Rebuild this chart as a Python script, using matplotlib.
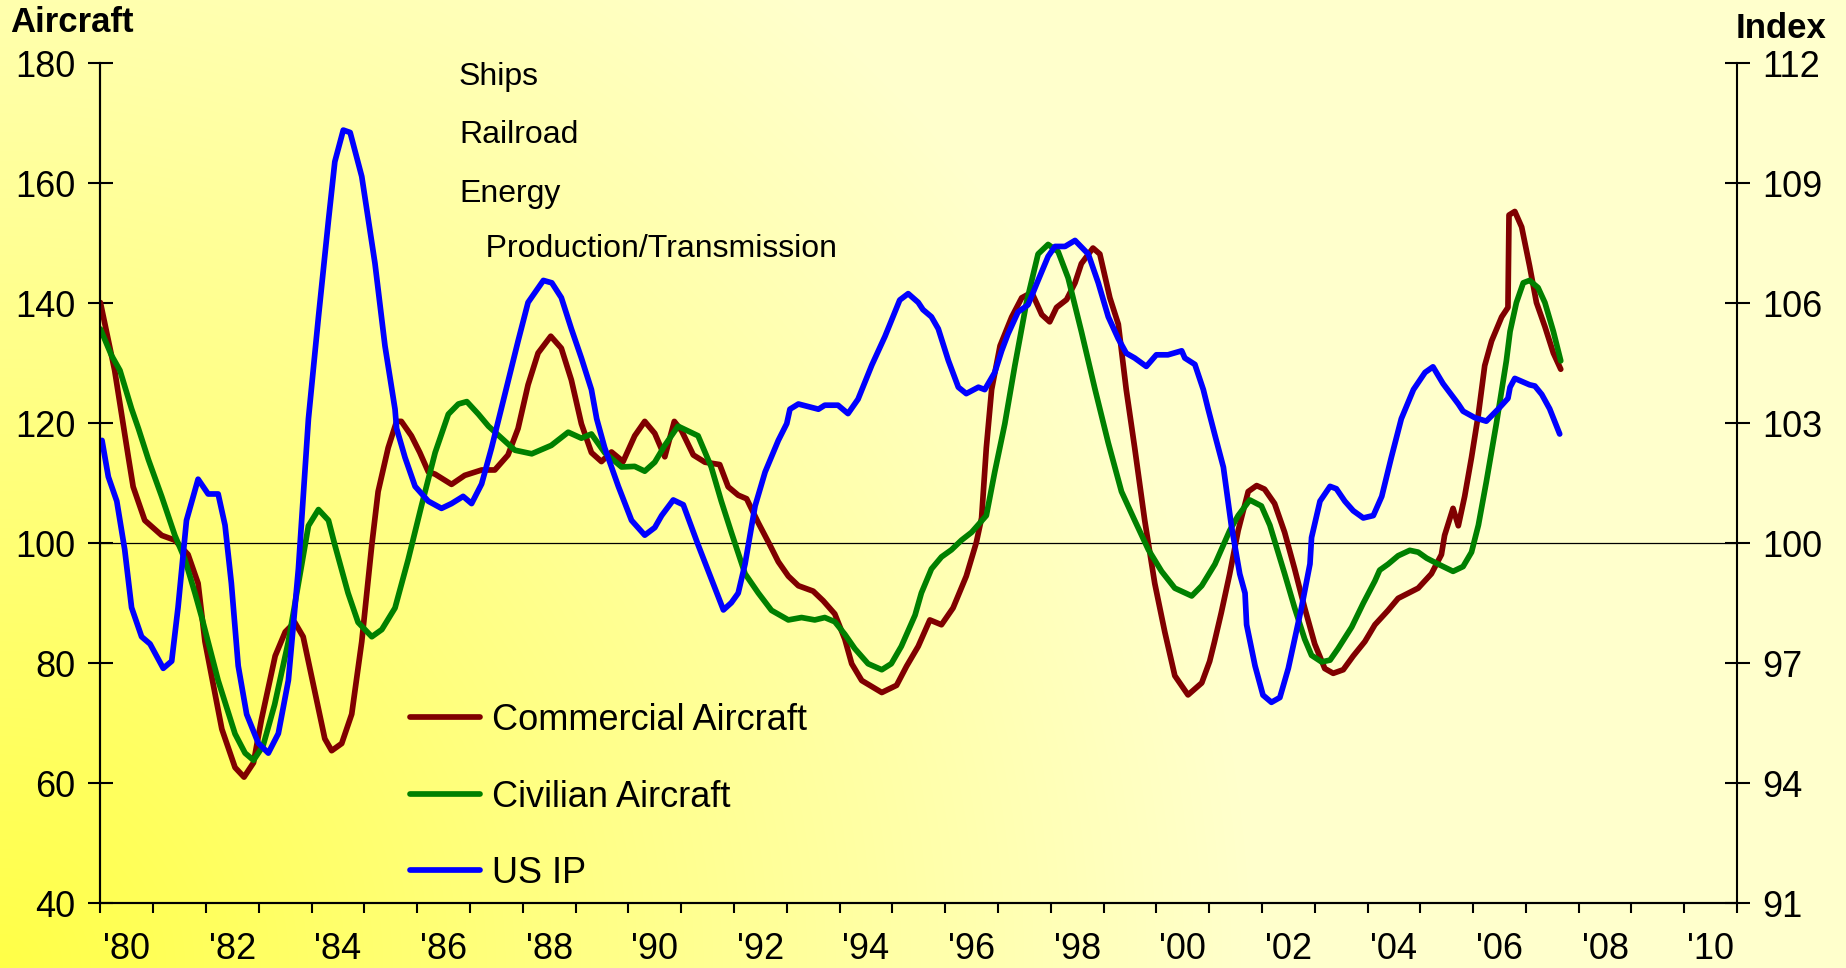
#!/usr/bin/env python3
"""Aircraft orders vs US industrial production, 1980-2007."""
import numpy as np
import matplotlib
matplotlib.use("Agg")
import matplotlib.pyplot as plt
from matplotlib.lines import Line2D

plt.rcParams["font.family"] = ["Liberation Sans", "DejaVu Sans"]

# Commercial aircraft (left axis)
comm_years = [1980.00, 1980.27, 1980.53, 1980.62, 1980.84, 1981.16, 1981.41, 1981.66, 1981.85, 1981.98,
              1982.30, 1982.55, 1982.72, 1982.90, 1983.05, 1983.31, 1983.50, 1983.68, 1983.84, 1984.25,
              1984.38, 1984.57, 1984.76, 1984.95, 1985.14, 1985.26, 1985.45, 1985.61, 1985.70, 1985.89,
              1986.05, 1986.21, 1986.34, 1986.65, 1986.90, 1987.22, 1987.47, 1987.72, 1987.91, 1988.10,
              1988.29, 1988.53, 1988.73, 1988.92, 1989.11, 1989.30, 1989.49, 1989.68, 1989.90, 1990.12,
              1990.31, 1990.50, 1990.69, 1990.87, 1991.01, 1991.23, 1991.45, 1991.73, 1991.89, 1992.08,
              1992.24, 1992.46, 1992.68, 1992.84, 1993.03, 1993.22, 1993.50, 1993.69, 1993.91, 1994.10,
              1994.23, 1994.42, 1994.80, 1995.08, 1995.27, 1995.49, 1995.71, 1995.93, 1996.15, 1996.40,
              1996.59, 1996.69, 1996.78, 1996.88, 1997.04, 1997.26, 1997.45, 1997.64, 1997.83, 1997.98,
              1998.11, 1998.30, 1998.46, 1998.58, 1998.80, 1998.93, 1999.12, 1999.28, 1999.43, 1999.59,
              1999.78, 1999.97, 2000.16, 2000.35, 2000.60, 2000.86, 2001.01, 2001.10, 2001.23, 2001.39,
              2001.55, 2001.74, 2001.90, 2002.05, 2002.24, 2002.43, 2002.62, 2002.81, 2003.00, 2003.19,
              2003.35, 2003.54, 2003.73, 2003.95, 2004.14, 2004.39, 2004.58, 2004.96, 2005.21, 2005.40,
              2005.46, 2005.62, 2005.72, 2005.84, 2005.97, 2006.10, 2006.22, 2006.35, 2006.54, 2006.66,
              2006.68, 2006.79, 2006.92, 2007.07, 2007.20, 2007.36, 2007.52, 2007.66]
comm_vals = [140.1, 128.8, 114.3, 109.4, 103.8, 101.3, 100.5, 98.1, 93.3, 83.6,
             69.0, 62.6, 61.0, 63.4, 70.6, 81.2, 85.2, 86.8, 84.4, 67.4,
             65.4, 66.6, 71.5, 83.6, 99.7, 108.6, 115.9, 120.3, 120.3, 117.9,
             115.1, 111.9, 111.5, 109.8, 111.3, 112.2, 112.2, 114.7, 119.1, 126.4,
             131.7, 134.5, 132.5, 127.2, 119.9, 115.1, 113.6, 115.2, 113.6, 117.9,
             120.3, 118.3, 114.4, 120.3, 118.7, 114.7, 113.5, 113.1, 109.4, 108.0,
             107.4, 103.4, 99.7, 96.9, 94.5, 92.9, 92.0, 90.4, 88.2, 84.0,
             79.9, 77.1, 75.1, 76.3, 79.5, 82.8, 87.2, 86.4, 89.2, 94.5,
             100.1, 104.2, 115.9, 125.6, 132.9, 137.7, 140.9, 141.8, 138.1, 136.9,
             139.3, 140.6, 143.4, 146.6, 149.2, 148.2, 140.9, 136.5, 125.6, 115.9,
             103.8, 93.3, 85.2, 77.9, 74.7, 76.7, 80.3, 83.5, 88.4, 94.9,
             102.1, 108.6, 109.6, 109.0, 106.6, 101.8, 95.7, 89.2, 83.2, 79.1,
             78.3, 78.9, 81.2, 83.6, 86.4, 88.8, 90.8, 92.5, 94.9, 98.1,
             101.3, 105.8, 102.9, 107.8, 114.3, 121.5, 129.6, 133.7, 137.7, 139.3,
             154.7, 155.3, 152.7, 146.2, 140.1, 136.1, 131.7, 129.0]

# Civilian aircraft (left axis)
civ_years = [1980.00, 1980.21, 1980.37, 1980.59, 1980.72, 1980.91, 1981.16, 1981.41, 1981.60, 1981.79,
             1981.92, 1982.23, 1982.55, 1982.74, 1982.90, 1983.08, 1983.30, 1983.56, 1983.75, 1983.94,
             1984.13, 1984.32, 1984.44, 1984.69, 1984.88, 1985.14, 1985.33, 1985.58, 1985.83, 1986.08,
             1986.34, 1986.59, 1986.78, 1986.94, 1987.16, 1987.35, 1987.60, 1987.85, 1988.17, 1988.54,
             1988.86, 1989.11, 1989.30, 1989.55, 1989.87, 1990.12, 1990.31, 1990.50, 1990.69, 1990.94,
             1991.32, 1991.57, 1991.76, 1991.95, 1992.21, 1992.46, 1992.71, 1993.03, 1993.28, 1993.53,
             1993.72, 1993.91, 1994.10, 1994.29, 1994.54, 1994.80, 1994.98, 1995.17, 1995.43, 1995.55,
             1995.74, 1995.93, 1996.12, 1996.31, 1996.50, 1996.78, 1996.94, 1997.13, 1997.32, 1997.54,
             1997.76, 1997.95, 1998.14, 1998.33, 1998.58, 1998.84, 1999.09, 1999.34, 1999.59, 1999.85,
             2000.10, 2000.35, 2000.67, 2000.86, 2001.11, 2001.39, 2001.55, 2001.77, 2001.99, 2002.15,
             2002.43, 2002.62, 2002.81, 2002.94, 2003.13, 2003.29, 2003.44, 2003.70, 2003.92, 2004.14,
             2004.23, 2004.39, 2004.58, 2004.80, 2004.96, 2005.12, 2005.34, 2005.62, 2005.81, 2005.97,
             2006.10, 2006.25, 2006.44, 2006.63, 2006.70, 2006.82, 2006.95, 2007.07, 2007.23, 2007.36,
             2007.52, 2007.66]
civ_vals = [135.7, 131.3, 128.8, 122.4, 119.1, 113.9, 107.8, 101.3, 97.3, 91.7,
            87.6, 77.1, 68.2, 65.0, 63.8, 66.2, 73.1, 83.6, 93.3, 102.9,
            105.6, 103.8, 99.7, 91.7, 86.8, 84.4, 85.6, 89.2, 97.3, 106.2,
            115.1, 121.5, 123.2, 123.6, 121.5, 119.5, 117.5, 115.5, 114.9, 116.3,
            118.5, 117.5, 118.2, 115.1, 112.7, 112.8, 112.0, 113.5, 116.3, 119.5,
            117.9, 112.7, 107.0, 101.8, 94.9, 91.7, 88.8, 87.2, 87.6, 87.2,
            87.6, 86.9, 84.8, 82.4, 79.9, 78.9, 79.9, 82.8, 88.0, 91.7,
            95.7, 97.7, 98.9, 100.5, 101.8, 104.6, 111.9, 119.9, 129.6, 140.1,
            148.2, 149.8, 148.6, 144.2, 135.3, 125.6, 116.7, 108.6, 103.8, 98.9,
            95.3, 92.5, 91.2, 92.9, 96.5, 102.1, 104.6, 107.2, 106.2, 103.0,
            94.9, 89.2, 84.0, 81.3, 80.2, 80.5, 82.4, 86.0, 90.0, 93.7,
            95.5, 96.5, 97.9, 98.8, 98.5, 97.5, 96.5, 95.3, 96.1, 98.5,
            103.0, 110.2, 119.9, 130.4, 135.3, 140.1, 143.4, 143.8, 142.6, 140.1,
            135.3, 130.4]

# US industrial production index (right axis)
ip_years = [1980.03, 1980.15, 1980.31, 1980.46, 1980.59, 1980.78, 1980.94, 1981.19, 1981.35, 1981.47,
            1981.63, 1981.85, 1982.04, 1982.23, 1982.36, 1982.48, 1982.61, 1982.77, 1982.99, 1983.18,
            1983.37, 1983.56, 1983.75, 1983.94, 1984.13, 1984.32, 1984.44, 1984.60, 1984.73, 1984.95,
            1985.20, 1985.39, 1985.58, 1985.61, 1985.77, 1985.96, 1986.21, 1986.46, 1986.65, 1986.87,
            1987.03, 1987.22, 1987.41, 1987.66, 1987.91, 1988.10, 1988.39, 1988.55, 1988.73, 1988.92,
            1989.11, 1989.30, 1989.40, 1989.55, 1989.81, 1990.06, 1990.31, 1990.50, 1990.63, 1990.85,
            1991.04, 1991.32, 1991.57, 1991.80, 1991.95, 1992.08, 1992.21, 1992.40, 1992.59, 1992.84,
            1993.00, 1993.06, 1993.22, 1993.60, 1993.72, 1993.97, 1994.16, 1994.35, 1994.61, 1994.86,
            1995.14, 1995.30, 1995.49, 1995.58, 1995.74, 1995.87, 1996.06, 1996.25, 1996.40, 1996.63,
            1996.75, 1996.94, 1997.07, 1997.19, 1997.38, 1997.57, 1997.76, 1997.95, 1998.08, 1998.27,
            1998.46, 1998.71, 1998.90, 1999.09, 1999.28, 1999.43, 1999.59, 1999.81, 2000.00, 2000.22,
            2000.48, 2000.54, 2000.73, 2000.89, 2000.98, 2001.11, 2001.27, 2001.42, 2001.58, 2001.68,
            2001.71, 2001.87, 2002.02, 2002.18, 2002.34, 2002.50, 2002.75, 2002.91, 2002.94, 2003.10,
            2003.29, 2003.41, 2003.57, 2003.73, 2003.92, 2004.11, 2004.27, 2004.45, 2004.64, 2004.87,
            2005.09, 2005.24, 2005.43, 2005.72, 2005.81, 2006.03, 2006.25, 2006.48, 2006.66, 2006.70,
            2006.79, 2007.07, 2007.17, 2007.30, 2007.45, 2007.64]
ip_vals = [102.57, 101.66, 101.05, 99.84, 98.39, 97.66, 97.48, 96.87, 97.05, 98.39,
           100.57, 101.60, 101.23, 101.23, 100.45, 99.00, 96.93, 95.72, 95.00, 94.75,
           95.24, 96.57, 99.36, 103.11, 105.66, 108.08, 109.54, 110.33, 110.27, 109.17,
           107.00, 104.93, 103.35, 102.87, 102.14, 101.42, 101.05, 100.87, 100.99, 101.17,
           100.99, 101.48, 102.39, 103.72, 105.05, 106.02, 106.57, 106.51, 106.14, 105.36,
           104.63, 103.84, 103.11, 102.39, 101.42, 100.57, 100.20, 100.39, 100.69, 101.08,
           100.96, 99.96, 99.11, 98.33, 98.51, 98.75, 99.48, 100.93, 101.78, 102.57,
           102.99, 103.35, 103.48, 103.35, 103.45, 103.45, 103.24, 103.60, 104.45, 105.17,
           106.08, 106.24, 106.02, 105.84, 105.66, 105.36, 104.57, 103.90, 103.74, 103.90,
           103.84, 104.27, 104.81, 105.23, 105.78, 105.96, 106.57, 107.17, 107.42, 107.42,
           107.57, 107.23, 106.51, 105.66, 105.11, 104.75, 104.63, 104.42, 104.71, 104.71,
           104.81, 104.63, 104.47, 103.84, 103.36, 102.70, 101.90, 100.45, 99.23, 98.75,
           97.96, 96.93, 96.20, 96.02, 96.14, 96.87, 98.39, 99.48, 100.14, 101.05,
           101.42, 101.36, 101.05, 100.81, 100.63, 100.69, 101.17, 102.14, 103.11, 103.84,
           104.27, 104.41, 103.99, 103.48, 103.30, 103.14, 103.05, 103.36, 103.62, 103.90,
           104.12, 103.96, 103.93, 103.72, 103.36, 102.73]

year_labels = ["'80", "'82", "'84", "'86", "'88", "'90", "'92", "'94",
               "'96", "'98", "'00", "'02", "'04", "'06", "'08", "'10"]
notes = ["Ships", "Railroad", "Energy", "   Production/Transmission"]

RED, GREEN, BLUE = "#800000", "#008000", "#0000FF"


def background(fig):
    bg = fig.add_axes([0, 0, 1, 1], zorder=-10)
    w, h = 1846, 968
    xx, yy = np.meshgrid(np.arange(w), np.arange(h)[::-1])
    t = np.clip(np.hypot(xx, yy) / 1250.0, 0, 1)
    lo = np.array([1.0, 1.0, 0.28])
    hi = np.array([1.0, 1.0, 0.80])
    img = lo + (hi - lo) * t[..., None]
    bg.imshow(img, aspect="auto", extent=[0, 1, 0, 1], origin="upper")
    bg.axis("off")


def main():
    fig = plt.figure(figsize=(18.46, 9.68), dpi=100)
    background(fig)

    ax = fig.add_axes([0.0544, 0.0671, 0.8866, 0.8675])
    ax.patch.set_alpha(0)
    ax2 = ax.twinx()

    lw = 4.1
    ax.plot(comm_years, comm_vals, color=RED, lw=lw, solid_joinstyle="round", solid_capstyle="round")
    ax.plot(civ_years, civ_vals, color=GREEN, lw=lw, solid_joinstyle="round", solid_capstyle="round")
    ax2.plot(ip_years, ip_vals, color=BLUE, lw=lw, solid_joinstyle="round", solid_capstyle="round")
    ax.axhline(100, color="black", lw=0.9, zorder=1)

    ax.set_xlim(1980, 2011)
    ax.set_ylim(40, 180)
    ax2.set_ylim(91, 112)

    ax.set_yticks(range(40, 181, 20))
    ax2.set_yticks(range(91, 113, 3))
    ax.set_xticks(range(1980, 2012))
    ax.set_xticklabels([])
    ax.set_xticks([y + 0.5 for y in range(1980, 2011, 2)], minor=True)
    ax.set_xticklabels(year_labels, minor=True)

    ax.tick_params(axis="y", direction="inout", length=18, width=1.5, labelsize=26, pad=9)
    ax2.tick_params(axis="y", direction="inout", length=18, width=1.5, labelsize=26, pad=9)
    ax.tick_params(axis="x", which="major", direction="out", length=7, width=1.5)
    ax.tick_params(axis="x", which="minor", length=0, labelsize=26, pad=21)

    for a in (ax, ax2):
        a.spines["top"].set_visible(False)
        for s in ("left", "right", "bottom"):
            a.spines[s].set_linewidth(1.5)
    ax.spines["right"].set_visible(False)

    fig.text(10 / 1846, 1 - 22 / 968, "Aircraft", fontsize=25, fontweight="bold", ha="left", va="center")
    fig.text(1826 / 1846, 1 - 28 / 968, "Index", fontsize=25, fontweight="bold", ha="right", va="center")

    base = [85, 143, 202, 257]
    for txt, yb in zip(notes, base):
        fig.text(459 / 1846, 1 - yb / 968, txt, fontsize=23, ha="left", va="baseline")

    handles = [Line2D([], [], color=c, lw=lw, solid_capstyle="round") for c in (RED, GREEN, BLUE)]
    ax.legend(handles, ["Commercial Aircraft", "Civilian Aircraft", "US IP"],
              loc="upper left", bbox_to_anchor=(410 / 1846, 1 - 703 / 968),
              bbox_transform=fig.transFigure, frameon=False, fontsize=26,
              handlelength=1.95, handletextpad=0.32, labelspacing=1.15,
              borderpad=0, borderaxespad=0)

    fig.savefig("out.png", dpi=100)
    plt.close(fig)


if __name__ == "__main__":
    main()
